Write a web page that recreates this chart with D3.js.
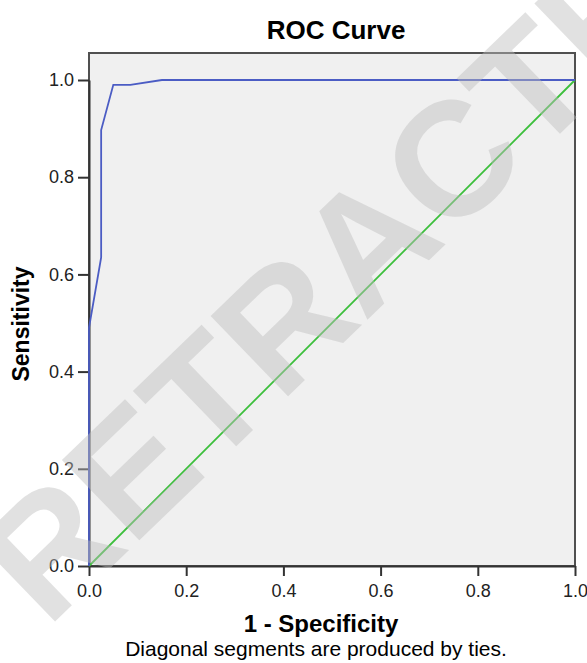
<!DOCTYPE html>
<html>
<head>
<meta charset="utf-8">
<script src="https://cdn.jsdelivr.net/npm/d3@7"></script>
<style>
  body { margin: 0; background: #fff; }
  svg { display: block; font-family: "Liberation Sans", Arial, sans-serif; }
</style>
</head>
<body>
<svg id="chart" width="587" height="663"></svg>
<script>
// ROC curve points (1 - specificity, sensitivity)
const fpr = [0, 0, 0.025, 0.025, 0.05, 0.085, 0.15, 1];
const tpr = [0, 0.49, 0.635, 0.897, 0.99, 0.99, 1.0, 1.0];
// reference line
const refLine = [0, 1];
const tickValues = [0, 0.2, 0.4, 0.6, 0.8, 1.0];

const svg = d3.select("#chart");
const margin = { left: 89, right: 12, top: 80, bottom: 97 };
const width = 587, height = 663;

const x = d3.scaleLinear().domain([0, 1]).range([margin.left, width - margin.right]);
const y = d3.scaleLinear().domain([0, 1]).range([height - margin.bottom, margin.top]);

// plot frame (extends a bit above 1.0)
const frameTop = 53;
svg.append("rect")
  .attr("x", x(0))
  .attr("y", frameTop)
  .attr("width", x(1) - x(0))
  .attr("height", y(0) - frameTop)
  .attr("fill", "#f0f0f0")
  .attr("stroke", "#505050")
  .attr("stroke-width", 2);

// axes
const xAxis = d3.axisBottom(x).tickValues(tickValues).tickFormat(d3.format(".1f"))
  .tickSizeInner(10).tickSizeOuter(0).tickPadding(8);
const yAxis = d3.axisLeft(y).tickValues(tickValues).tickFormat(d3.format(".1f"))
  .tickSizeInner(11).tickSizeOuter(0).tickPadding(4);

const gx = svg.append("g").attr("transform", `translate(0,${y(0)})`).call(xAxis);
const gy = svg.append("g").attr("transform", `translate(${x(0)},0)`).call(yAxis);
[gx, gy].forEach(g => {
  g.select(".domain").attr("stroke", "#333").attr("stroke-width", 2);
  g.selectAll(".tick line").attr("stroke", "#333").attr("stroke-width", 2);
  g.selectAll(".tick text")
    .attr("fill", "#222")
    .style("font-size", "18px")
    .style("font-family", "'Liberation Sans', Arial, sans-serif");
});

// diagonal reference line
svg.append("line")
  .attr("x1", x(refLine[0])).attr("y1", y(refLine[0]))
  .attr("x2", x(refLine[1])).attr("y2", y(refLine[1]))
  .attr("stroke", "#3cbf3c")
  .attr("stroke-width", 1.8);

// ROC curve
const rocData = fpr.map((d, i) => ({ x: d, y: tpr[i] }));
svg.append("path")
  .datum(rocData)
  .attr("fill", "none")
  .attr("stroke", "#4b5cc4")
  .attr("stroke-width", 1.8)
  .attr("d", d3.line().x(d => x(d.x)).y(d => y(d.y)));

// titles
svg.append("text")
  .attr("x", 336).attr("y", 39)
  .attr("text-anchor", "middle")
  .style("font-weight", "bold").style("font-size", "26px")
  .attr("fill", "#000")
  .text("ROC Curve");

svg.append("text")
  .attr("transform", "translate(29,324) rotate(-90)")
  .attr("text-anchor", "middle")
  .style("font-weight", "bold").style("font-size", "23px")
  .attr("fill", "#000")
  .text("Sensitivity");

svg.append("text")
  .attr("x", 321).attr("y", 632)
  .attr("text-anchor", "middle")
  .style("font-weight", "bold").style("font-size", "24px")
  .attr("fill", "#000")
  .text("1 - Specificity");

svg.append("text")
  .attr("x", 316).attr("y", 656)
  .attr("text-anchor", "middle")
  .style("font-size", "21px")
  .attr("fill", "#000")
  .text("Diagonal segments are produced by ties.");

// watermark
svg.append("text")
  .attr("transform", "translate(366,240) rotate(-44)")
  .attr("text-anchor", "middle")
  .attr("dy", "0.36em")
  .style("font-weight", "bold").style("font-size", "162px")
  .attr("fill", "#bdbdbd")
  .attr("fill-opacity", 0.45)
  .text("RETRACTED");
</script>
</body>
</html>
